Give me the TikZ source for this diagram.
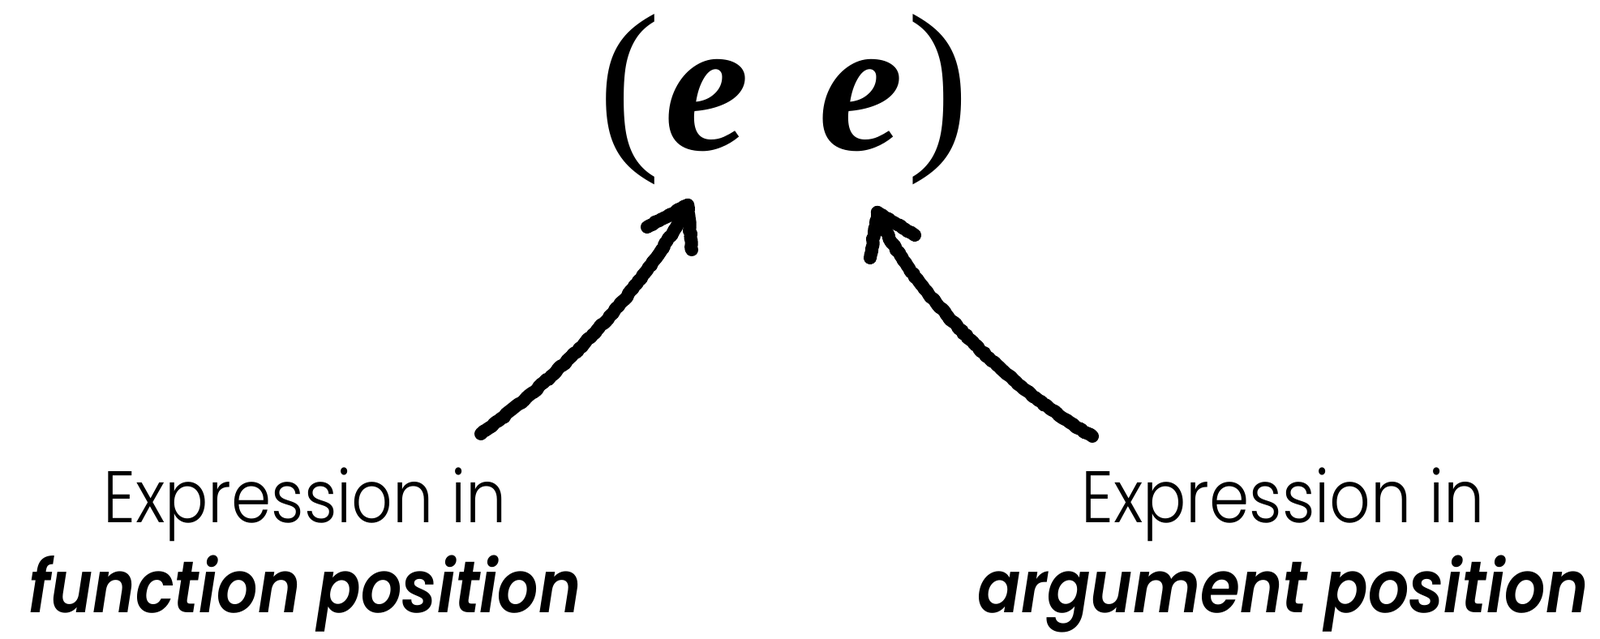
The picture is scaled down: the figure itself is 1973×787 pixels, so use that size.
\documentclass[tikz,border=0pt]{standalone}
\usepackage{fontspec}
\setmainfont{Liberation Serif}
\newfontfamily\lblfont{Poppins}[UprightFont=* Light, BoldItalicFont=* SemiBold Italic, FakeStretch=0.88]
\usetikzlibrary{decorations.pathmorphing}
\tikzset{
  glyph/.style={inner sep=0pt, anchor=base, font=\fontsize{116}{116}\selectfont},
  eglyph/.style={inner sep=0pt, anchor=base, font=\fontsize{118}{118}\selectfont\bfseries\itshape},
  lblone/.style={inner sep=0pt, anchor=base, font=\lblfont\fontsize{45}{50}\selectfont},
  lbltwo/.style={inner sep=0pt, anchor=base, font=\lblfont\fontsize{45}{50}\selectfont\bfseries\itshape},
  chalk/.style={line width=8pt, line cap=round, line join=round, black,
    decoration={random steps, segment length=2pt, amplitude=0.5pt}, decorate}
}
\begin{document}
\begin{tikzpicture}[x=0.5pt, y=-0.5pt]
\fill[white] (0,0) rectangle (1973,787);
\useasboundingbox (0,0) rectangle (1973,787);
% expression
\node[glyph] (lp) at (776,178.5) {(};
\node[eglyph] (e1) at (872,184) {e};
\node[eglyph] (e2) at (1062,184) {e};
\node[glyph] (rp) at (1157,178.5) {)};
% labels
\node[lblone] (fa) at (376,644) {Expression in};
\node[lbltwo] (fb) at (376,755) {function position};
\node[lblone] (aa) at (1582,644) {Expression in};
\node[lbltwo] (ab) at (1582,755) {argument position};
% arrow coordinates
\coordinate (s1) at (593,535);
\coordinate (t1) at (848,253);
\coordinate (b1a) at (798,280);
\coordinate (b1b) at (853,308);
\coordinate (s2) at (1347,538);
\coordinate (t2) at (1082,262);
\coordinate (b2a) at (1073,318);
\coordinate (b2b) at (1128,290);
% arrows
\draw[chalk] (s1) .. controls (690,465) and (800,350) .. (t1);
\draw[chalk] (b1a) -- (t1) -- (b1b);
\draw[chalk] (s2) .. controls (1260,490) and (1120,360) .. (t2);
\draw[chalk] (b2a) -- (t2) -- (b2b);
\end{tikzpicture}
\end{document}
